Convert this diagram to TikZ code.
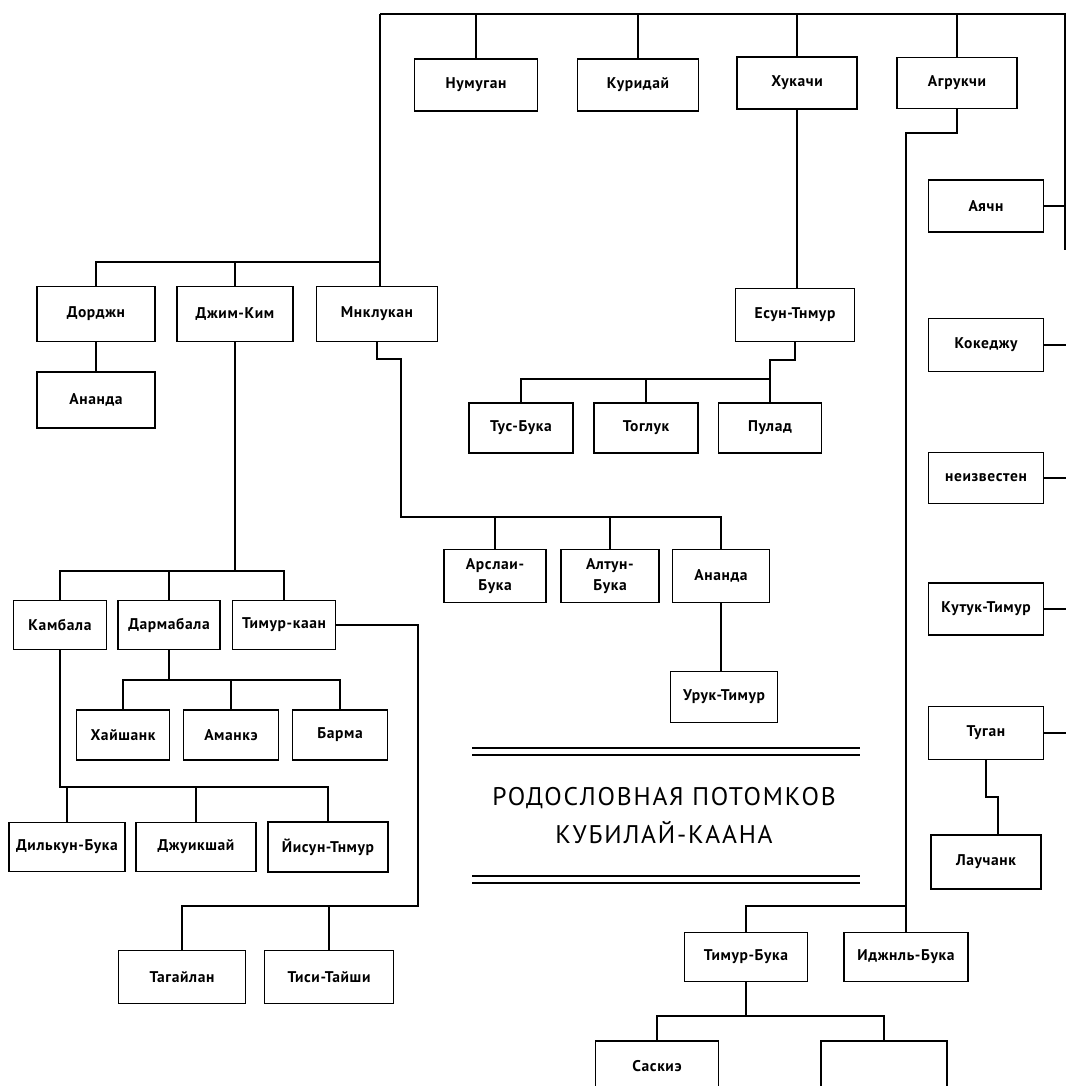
\documentclass[tikz,border=0pt]{standalone}
\usepackage{fontspec}
\setmainfont{PT Sans}
\newfontfamily\labelfont{PT Sans}[LetterSpace=4]
\newfontfamily\headfont{PT Sans}[LetterSpace=7]
\tikzset{
  person/.style={draw,line width=1.6pt,inner sep=1pt,align=center,
    font=\labelfont\bfseries\fontsize{15.5}{21}\selectfont},
  link/.style={line width=1.6pt},
  title/.style={align=center,font=\headfont\fontsize{25.5}{38}\selectfont},
  title rule/.style={line width=1.5pt},
}

\begin{document}
\begin{tikzpicture}[x=1pt,y=-1pt]
\fill[white] (0,0) rectangle (1066,1086);
\useasboundingbox (0,0) rectangle (1066,1086);
% boxes: name/x/y/width/height/label
\foreach \n/\x/\y/\w/\h/\t in {
  numugan/476/85/123/52/Нумуган,
  kuridai/638/85/121/52/Куридай,
  khukachi/797/83/120/52/Хукачи,
  agrukchi/957/83/120/51/Агрукчи,
  dordzhi/96/314/118/55/Дорджн,
  dzhimkim/235/314/116/55/Джим-Ким,
  miklukan/377/314/121/55/Мнклукан,
  ananda/96/400/118/56/Ананда,
  esuntimur/795/315/119/53/Есун-Тнмур,
  tusbuka/521/428/104/50/Тус-Бука,
  togluk/646/428/104/50/Тоглук,
  pulad/770/428/103/50/Пулад,
  arslanbuka/495/576/102/53/{Арслаи-\\Бука},
  altunbuka/610/576/98/53/{Алтун-\\Бука},
  anandaii/721/576/97/53/Ананда,
  uruktimur/724/697/107/51/Урук-Тимур,
  ayachi/986/206/115/52/Аячн,
  kokedzhu/986/345/115/53/Кокеджу,
  neizvesten/986/478/115/51/неизвестен,
  kutuktimur/986/609/115/52/Кутук-Тимур,
  tugan/986/733/115/53/Туган,
  lauchank/986/862/110/54/Лаучанк,
  kambala/60/625/93/49/Камбала,
  darmabala/169/625/102/49/Дармабала,
  timurkaan/284/625/103/49/Тимур-каан,
  khaishank/123/735/93/50/Хайшанк,
  amanke/231/735/95/50/Аманкэ,
  barma/340/735/95/50/Барма,
  dilkunbuka/67/847/116/49/Дилькун-Бука,
  dzhuikshai/196/847/120/49/Джуикшай,
  yisuntimur/328/847/120/50/Йисун-Тнмур,
  tagailan/182/977/127/53/Тагайлан,
  tisitaishi/329/977/129/53/Тиси-Тайши,
  timurbuka/746/957/123/49/Тимур-Бука,
  idzhilbuka/906/957/124/49/Иджнль-Бука,
  saskie/657/1066/123/50/Саскиэ,
  unknownson/884/1066/126/50/{}
}
  \node[person,minimum width=\w pt,minimum height=\h pt] (\n) at (\x,\y) {\t};

% top line and the sons of the first row
\coordinate (topL) at (380,14);
\coordinate (topR) at (1065,14);
\coordinate (rim) at (1066,250);
\draw[link] (topL) -- (topR) -- (topR |- rim);
\foreach \s in {numugan,kuridai,khukachi,agrukchi}
  \draw[link] (\s.north) -- (\s.north |- topL);
\foreach \s in {ayachi,kokedzhu,neizvesten,kutuktimur,tugan}
  \draw[link] (\s.east) -- (\s.east -| rim);
\coordinate (sons) at (0,262);
\draw[link] (topL) -- (topL |- miklukan.north);
\draw[link] (dordzhi.north) |- (topL |- sons);
\draw[link] (dzhimkim.north) -- (dzhimkim.north |- sons);
\draw[link] (dordzhi.south) -- (ananda.north);

% Miklukan
\coordinate (mk) at (401,359);
\coordinate (mkbar) at (0,517);
\draw[link] (miklukan.south) |- (mk) |- (anandaii.north |- mkbar) -- (anandaii.north);
\foreach \s in {arslanbuka,altunbuka}
  \draw[link] (\s.north) -- (\s.north |- mkbar);
\draw[link] (anandaii.south) -- (anandaii.south |- uruktimur.north);

% Khukachi
\coordinate (es) at (770,360);
\coordinate (esbar) at (0,379);
\draw[link] (khukachi.south) -- (khukachi.south |- esuntimur.north);
\draw[link] (esuntimur.south) |- (es) -- (pulad.north);
\draw[link] (tusbuka.north) |- (es |- esbar);
\draw[link] (togluk.north) -- (togluk.north |- esbar);

% Agrukchi
\coordinate (ag) at (906,133);
\coordinate (agbar) at (0,906);
\draw[link] (agrukchi.south) |- (ag) -- (idzhilbuka.north);
\draw[link] (timurbuka.north) |- (ag |- agbar);
\coordinate (tbbar) at (0,1016);
\draw[link] (timurbuka.south) -- (timurbuka.south |- tbbar);
\draw[link] (saskie.north) |- (unknownson.north |- tbbar) -- (unknownson.north);

% Tugan
\coordinate (tg) at (998,797);
\draw[link] (tugan.south) |- (tg) -- (tg |- lauchank.north);

% Dzhim-Kim
\coordinate (jkbar) at (0,571);
\draw[link] (dzhimkim.south) -- (dzhimkim.south |- jkbar);
\draw[link] (kambala.north) |- (timurkaan.north |- jkbar) -- (timurkaan.north);
\draw[link] (darmabala.north) -- (darmabala.north |- jkbar);
\coordinate (dbbar) at (0,680);
\draw[link] (darmabala.south) -- (darmabala.south |- dbbar);
\draw[link] (khaishank.north) |- (barma.north |- dbbar) -- (barma.north);
\draw[link] (amanke.north) -- (amanke.north |- dbbar);
\coordinate (kbbar) at (0,787);
\draw[link] (kambala.south) |- (yisuntimur.north |- kbbar) -- (yisuntimur.north);
\foreach \s in {dilkunbuka,dzhuikshai}
  \draw[link] (\s.north) -- (\s.north |- kbbar);
\coordinate (tk) at (418,906);
\draw[link] (timurkaan.east) -| (tk) -- (tagailan.north |- tk) -- (tagailan.north);
\draw[link] (tisitaishi.north) -- (tisitaishi.north |- tk);

% heading
\node[title] (heading) at (664,816) {РОДОСЛОВНАЯ ПОТОМКОВ\\КУБИЛАЙ-КААНА};
\foreach \yy in {748,755,876,883}
  \draw[title rule] (472,\yy) -- (860,\yy);
\end{tikzpicture}
\end{document}
